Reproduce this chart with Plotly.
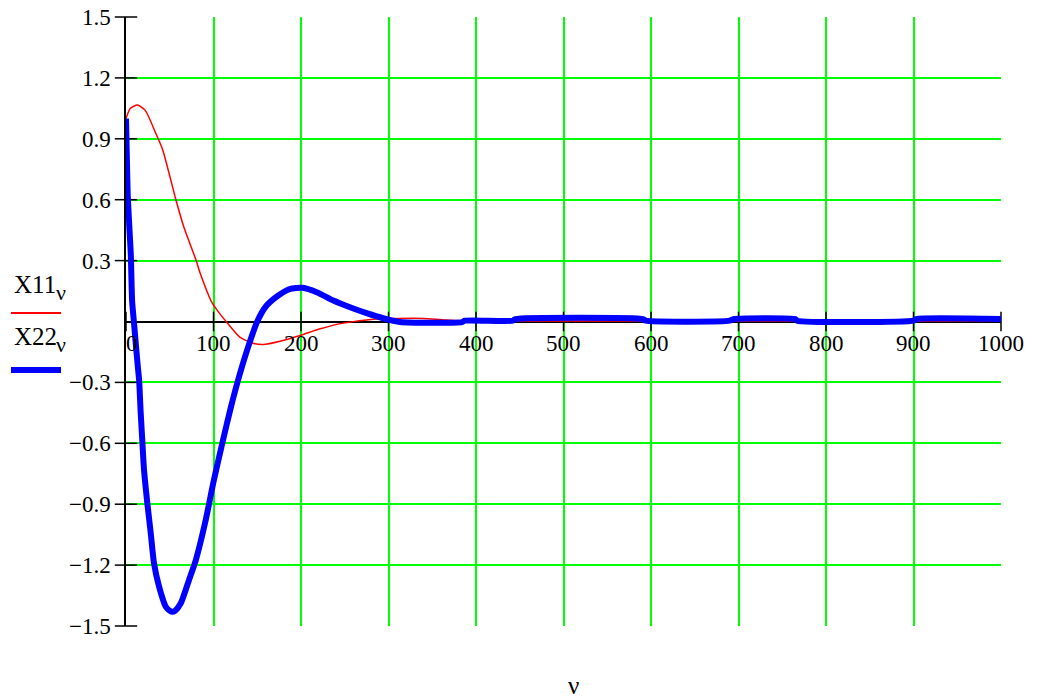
import plotly.graph_objects as go

# Response of the two state variables over the index nu
nu_x11 = [0, 5, 13, 22, 34, 42, 57, 66, 80, 85, 98, 106, 115, 130, 145, 157, 176,
          199, 222, 248, 275, 290, 310, 340, 365, 400, 500, 600, 700, 800, 900, 1000]
x11 = [1.0, 1.05, 1.066, 1.04, 0.927, 0.845, 0.6, 0.467, 0.303, 0.235, 0.095,
       0.045, -0.003, -0.077, -0.107, -0.113, -0.097, -0.069, -0.036, -0.008,
       0.008, 0.013, 0.015, 0.015, 0.008, 0.003, 0.003, 0.003, 0.003, 0.003,
       0.003, 0.003]

nu_x22 = [0, 1, 2, 4, 5.5, 7, 9, 13, 15, 16.8, 18.7, 20.6, 24.4, 28.3, 32, 37.8,
          45.5, 50, 53, 56, 62.6, 72, 79.8, 91, 100, 110, 120, 130, 140,
          150, 160, 174, 187, 202, 218, 237, 256, 275, 294, 313, 384,
          387, 442, 445, 591, 594, 690, 694, 765, 767, 900, 903, 1000]
x22 = [1.0, 0.8, 0.62, 0.45, 0.33, 0.1, 0.0, -0.2, -0.29, -0.45, -0.592, -0.731,
       -0.896, -1.043, -1.191, -1.306, -1.405, -1.425, -1.43, -1.425, -1.388,
       -1.273, -1.175, -0.98, -0.79, -0.6, -0.42, -0.26, -0.12, 0.0,
       0.075, 0.128, 0.16, 0.166, 0.144, 0.103, 0.07, 0.041, 0.016, -0.002,
       -0.003, 0.004, 0.004, 0.012, 0.012, 0.004, 0.004, 0.012, 0.012,
       0.004, 0.004, 0.012, 0.012]

x_ticks = [0, 100, 200, 300, 400, 500, 600, 700, 800, 900, 1000]
y_ticks = [1.5, 1.2, 0.9, 0.6, 0.3, -0.3, -0.6, -0.9, -1.2, -1.5]
y_tick_text = ["1.5", "1.2", "0.9", "0.6", "0.3",
               "\u22120.3", "\u22120.6", "\u22120.9", "\u22121.2", "\u22121.5"]

FONT = "Liberation Serif"
GRID = "rgb(0,255,0)"
L, T, W, H = 126, 17, 875, 609


def px_x(p):
    return (p - L) / W


def px_y(p):
    return (T + H - p) / H


fig = go.Figure()

# crossing tick marks on the vertical axis and on the zero line
fig.add_trace(go.Scatter(
    x=[0] * len(y_ticks), y=y_ticks, mode="markers", cliponaxis=False,
    marker=dict(symbol="line-ew", size=16, line=dict(color="black", width=1.5)),
    hoverinfo="skip", showlegend=False))
fig.add_trace(go.Scatter(
    x=x_ticks, y=[0] * len(x_ticks), mode="markers", cliponaxis=False,
    marker=dict(symbol="line-ns", size=14, line=dict(color="black", width=1.5)),
    hoverinfo="skip", showlegend=False))

fig.add_trace(go.Scatter(x=nu_x11, y=x11, mode="lines",
                         line=dict(color="#ff0000", width=1.5, shape="spline",
                                   smoothing=0.6),
                         showlegend=False))
fig.add_trace(go.Scatter(x=nu_x22, y=x22, mode="lines",
                         line=dict(color="#0000ff", width=6, shape="spline",
                                   smoothing=0.6),
                         showlegend=False))

# x tick labels sit just under the zero line
for t in x_ticks:
    fig.add_annotation(x=t, y=0, xref="x", yref="y", text=str(t), showarrow=False,
                       xanchor="center", yanchor="top", yshift=-7,
                       xshift=6 if t == 0 else 0,
                       font=dict(family=FONT, size=23, color="black"))

# axis title
fig.add_annotation(x=px_x(573), y=px_y(685), xref="paper", yref="paper",
                   text="\u03bd", showarrow=False, xanchor="center", yanchor="middle",
                   height=22, valign="middle",
                   font=dict(family=FONT, size=25, color="black"))

# series key on the left
for name, base_y in (("X11", 284), ("X22", 336)):
    fig.add_annotation(x=px_x(12), y=px_y(base_y), xref="paper", yref="paper",
                       text=name, showarrow=False, xanchor="left", yanchor="middle",
                       font=dict(family=FONT, size=25, color="black"))
    fig.add_annotation(x=px_x(54), y=px_y(base_y + 8), xref="paper", yref="paper",
                       text="\u03bd", showarrow=False, xanchor="left", yanchor="middle",
                       font=dict(family=FONT, size=22, color="black"))

fig.add_shape(type="line", xref="paper", yref="paper",
              x0=px_x(11), x1=px_x(61), y0=px_y(313), y1=px_y(313),
              line=dict(color="#ff0000", width=2))
fig.add_shape(type="line", xref="paper", yref="paper",
              x0=px_x(11), x1=px_x(61), y0=px_y(370), y1=px_y(370),
              line=dict(color="#0000ff", width=6))

fig.update_xaxes(range=[0, 1000], tickvals=x_ticks, showticklabels=False,
                 showgrid=True, gridcolor=GRID, gridwidth=1.5, automargin=False,
                 zeroline=False, showline=False, ticks="")
fig.update_yaxes(range=[-1.5, 1.5], tickvals=y_ticks, ticktext=y_tick_text,
                 showgrid=True, gridcolor=GRID, gridwidth=1.5, automargin=False,
                 zeroline=True, zerolinecolor="black", zerolinewidth=1.5,
                 showline=True, linecolor="black", linewidth=1.5,
                 ticks="outside", ticklen=9, tickcolor="rgba(0,0,0,0)",
                 tickfont=dict(family=FONT, size=23, color="black"))

fig.update_layout(
    width=1037, height=698,
    margin=dict(l=L, r=1037 - L - W, t=T, b=698 - T - H),
    plot_bgcolor="white", paper_bgcolor="white",
    showlegend=False,
)

fig.write_html("out.html")
